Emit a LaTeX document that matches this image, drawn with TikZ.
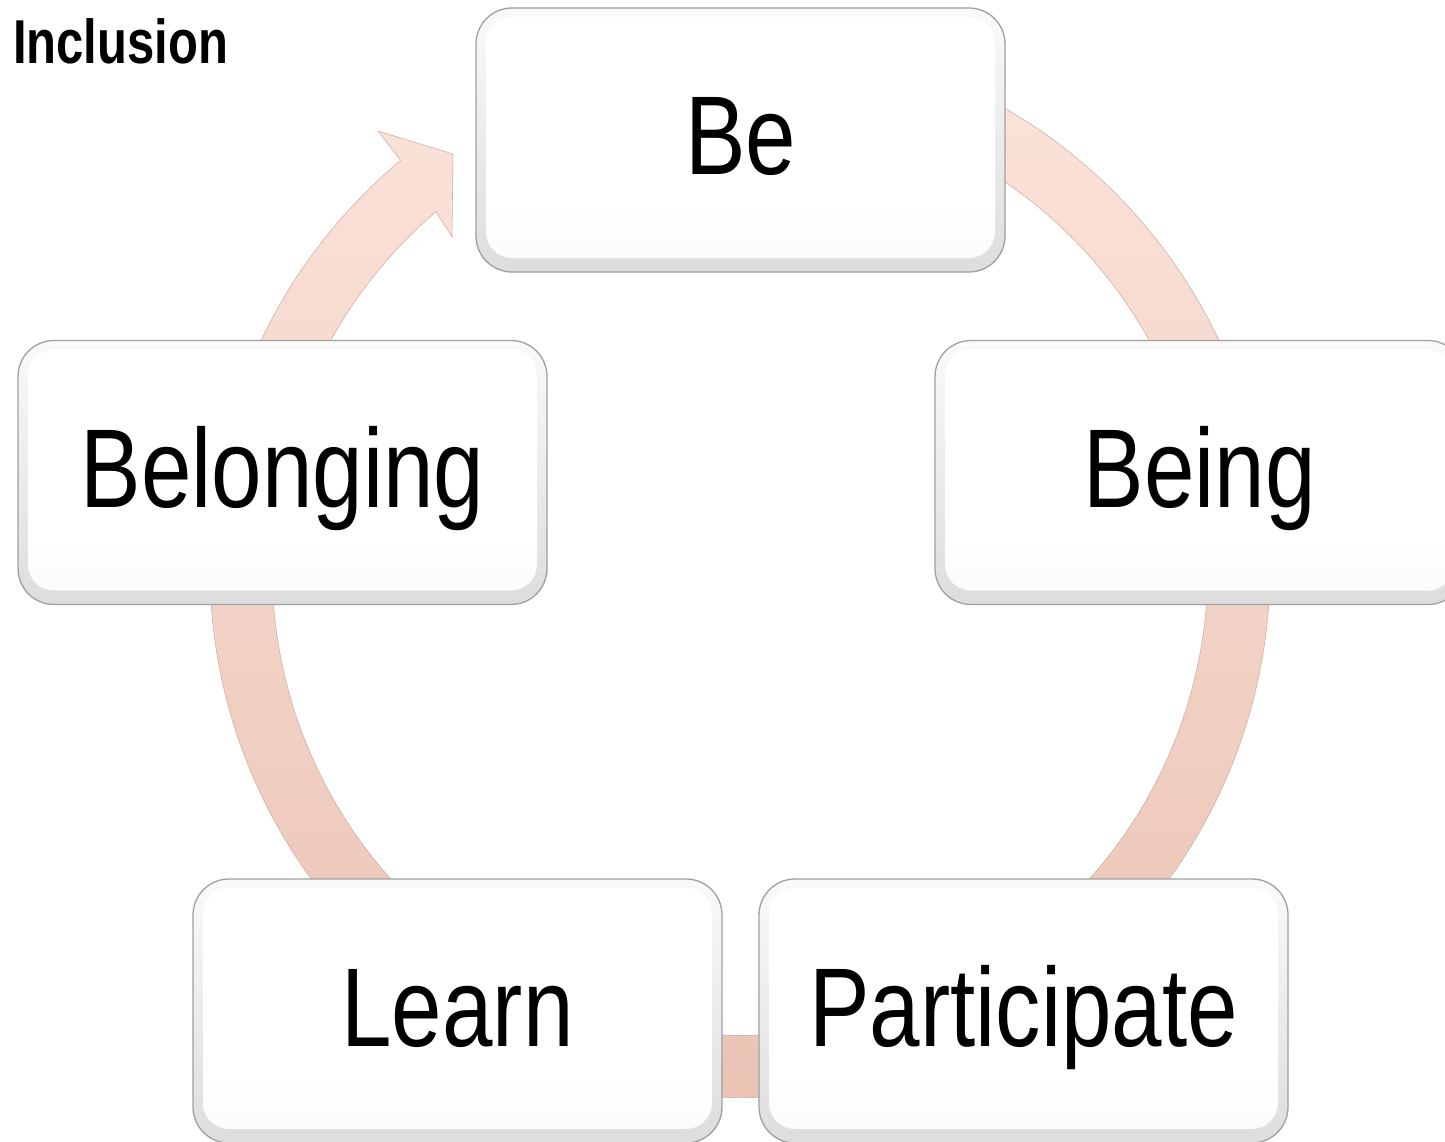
\documentclass[tikz,border=0pt]{standalone}
\usepackage{fontspec}
\usetikzlibrary{calc}
\newfontfamily\boxfont[FakeStretch=0.81]{Liberation Sans}
\newfontfamily\titlefont[FakeStretch=0.79]{Liberation Sans}
\definecolor{boxedge}{HTML}{A0A0A0}
\definecolor{boxtop}{HTML}{FAFAFA}
\definecolor{boxbot}{HTML}{DDDDDD}
\definecolor{innerbot}{HTML}{F1F1F1}
\definecolor{ringtop}{HTML}{FCE4DB}
\definecolor{ringmid}{HTML}{F9D7CB}
\definecolor{ringbot}{HTML}{E9C2B3}
\definecolor{ringedge}{HTML}{D2B0A5}
\pgfdeclareverticalshading{innerfade}{100bp}{color(0bp)=(innerbot); color(38bp)=(white); color(100bp)=(white)}
\tikzset{
  cyclebox/.style={rounded corners=36pt, minimum width=529pt, minimum height=264pt,
    inner sep=0pt, draw=boxedge, line width=1.3pt,
    top color=boxtop, bottom color=boxbot,
    text height=70pt, text depth=0pt,
    font=\boxfont\fontsize{112}{112}\selectfont,
    path picture={
      \shade[shading=innerfade, rounded corners=26pt]
        ([shift={(10pt,-9pt)}]path picture bounding box.north west) rectangle
        ([shift={(-10pt,14pt)}]path picture bounding box.south east);}},
  ringshade/.style={top color=ringtop, middle color=ringmid, bottom color=ringbot, draw=ringedge, line width=0.6pt},
  titlestyle/.style={anchor=base west, inner sep=0pt, font=\titlefont\bfseries\fontsize{62}{62}\selectfont}
}
\begin{document}
\begin{tikzpicture}[x=1pt,y=1pt]
\useasboundingbox (0,0) rectangle (1445,-1142);
\clip (0,0) rectangle (1445,-1142);
\fill[white] (0,0) rectangle (1445,-1142);
\coordinate (C) at (740,-567.5);
% cycle arrow
\shade[ringshade] ([shift={(80:530pt)}]C) arc[start angle=80, end angle=-230.2, radius=530pt]
  -- (378,-131) coordinate (barbA) -- (453,-154) coordinate (tip) -- (452,-237) coordinate (barbB)
  -- ([shift={(130.5:468pt)}]C) arc[start angle=-229.5, end angle=80, radius=468pt] -- cycle;
% title
\node[titlestyle] (title) at (13,-64) {Inclusion};
% boxes
\node[cyclebox] (be) at (740.5,-140) {Be};
\node[cyclebox] (being) at (1199.5,-472.5) {Being};
\node[cyclebox] (belonging) at (282.5,-472.5) {Belonging};
\node[cyclebox] (learn) at (457.5,-1011) {Learn};
\node[cyclebox] (participate) at (1023.5,-1011) {Participate};
\end{tikzpicture}
\end{document}
